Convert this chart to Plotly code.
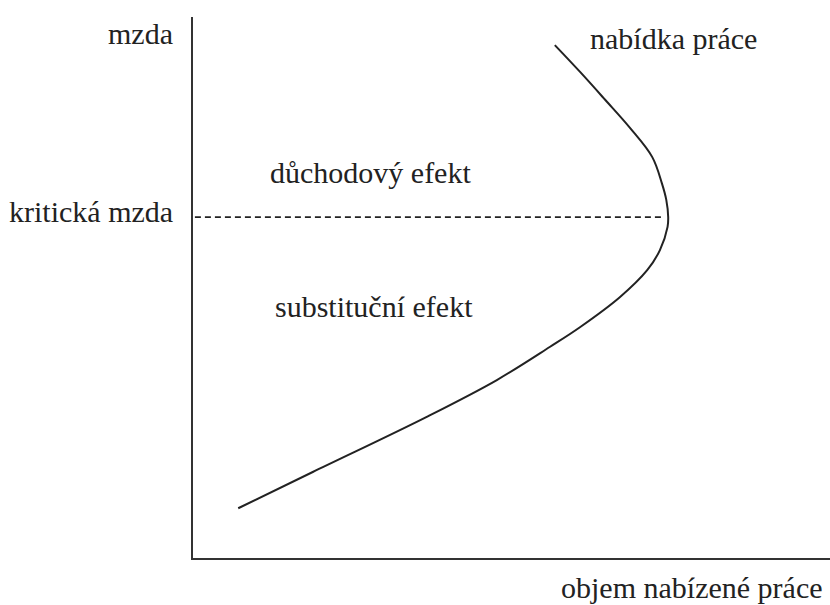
import plotly.graph_objects as go

# labour supply curve (quantity of labour offered, wage)
supply_x = [7.1, 18.8, 36.7, 47.7, 56.0, 60.8, 67.0, 71.3,
            73.3, 74.5, 74.6, 74.3, 73.6, 72.1, 68.6, 64.7, 60.8, 56.8]
supply_y = [9.2, 15.9, 26.1, 32.9, 39.0, 42.7, 48.2, 53.2,
            56.9, 61.2, 63.0, 66.2, 69.3, 74.1, 79.5, 84.7, 89.8, 94.8]

# critical wage level (dashed line)
critical_x = [0.3, 73.8]
critical_y = [63.0, 63.0]

FONT = dict(family='Liberation Serif', size=30, color='#222')

fig = go.Figure()
fig.add_trace(go.Scatter(x=critical_x, y=critical_y, mode='lines',
                         line=dict(color='#222', width=1.6, dash='6px,4px')))
fig.add_trace(go.Scatter(x=supply_x, y=supply_y, mode='lines',
                         line=dict(color='#222', width=2, shape='spline', smoothing=1.0)))

# (text, x, y, anchor) in axis percent; labels outside the axes go by paper coords
labels = [
    ('mzda', -2.8, 97.0, 'right'),
    ('kritická mzda', -2.8, 64.0, 'right'),
    ('nabídka práce', 62.0, 96.1, 'left'),
    ('důchodový efekt', 11.8, 71.2, 'left'),
    ('substituční efekt', 12.6, 46.4, 'left'),
    ('objem nabízené práce', 99.2, -5.4, 'right'),
]
for text, x, y, anchor in labels:
    fig.add_annotation(x=x / 100, y=y / 100, xref='paper', yref='paper',
                       text=text, showarrow=False, xanchor=anchor,
                       yanchor='middle', font=FONT)

axis = dict(range=[0, 100], showgrid=False, zeroline=False, showticklabels=False,
            ticks='', showline=True, linewidth=2, linecolor='#333')
fig.update_layout(width=830, height=605, showlegend=False,
                  margin=dict(l=193, r=0, t=17, b=47),
                  plot_bgcolor='white', paper_bgcolor='white',
                  xaxis=axis, yaxis=axis)

# drop the default 8px page margin so the figure fills the window exactly
fig.write_html("out.html", config={'displayModeBar': False},
               post_script="document.body.style.margin = '0';")
